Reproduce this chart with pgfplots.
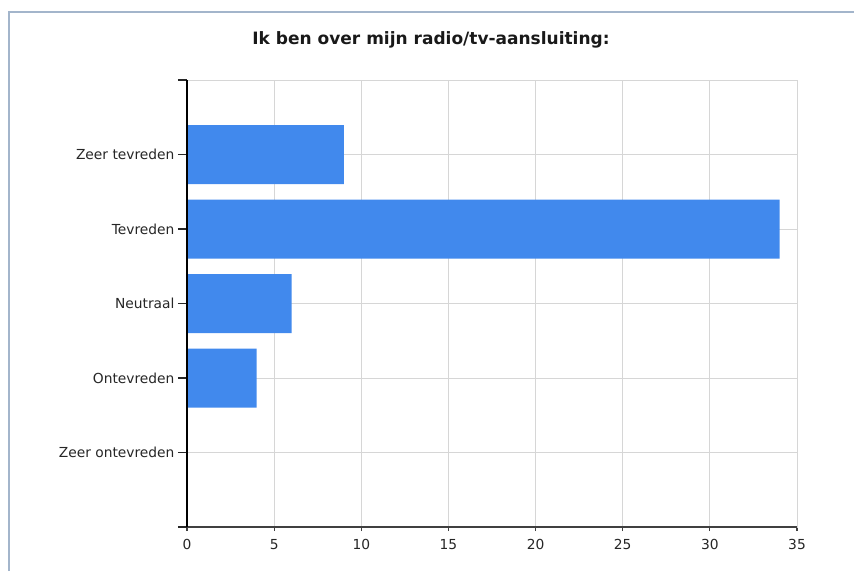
\documentclass[border=0pt]{standalone}
\usepackage{pgfplots}
\pgfplotsset{compat=1.18}
\usepackage{fontspec}
\setmainfont{DejaVu Sans}
\definecolor{barblue}{HTML}{4189ED}
\definecolor{gridgray}{HTML}{D6D6D6}
\definecolor{framec}{HTML}{A3B5CB}
\definecolor{axisx}{HTML}{404040}
\begin{document}
\begin{tikzpicture}[x=1pt,y=1pt]
\path[use as bounding box] (0,0) rectangle (854,571);
\draw[framec, line width=2pt] (9,0) -- (9,559) -- (854,559);
\node[font=\fontsize{17}{20}\selectfont\bfseries, text=black!90] at (431,531) {Ik ben over mijn radio/tv-aansluiting:};
\begin{axis}[
  at={(187pt,44pt)}, anchor=south west,
  scale only axis, width=610pt, height=447pt,
  xmin=0, xmax=35, ymin=0, ymax=6,
  xbar, bar width=59pt,
  clip=false,
  xtick={0,5,...,35}, minor xtick={0,5,...,35},
  major x tick style={draw=none},
  minor x tick style={axisx, line width=1.2pt},
  minor tick length=4pt,
  ytick={0,...,6},
  yticklabels={,Zeer ontevreden,Ontevreden,Neutraal,Tevreden,Zeer tevreden,},
  major y tick style={black!85, line width=1.2pt},
  major tick length=9pt, tick align=outside,
  xtick pos=bottom, ytick pos=left,
  xmajorgrids, ymajorgrids,
  grid style={gridgray, line width=1pt},
  axis line style={gridgray, line width=1pt},
  /pgf/number format/assume math mode=true,
  ticklabel style={font=\fontsize{13.8}{16}\selectfont, text=black!85},
]
\addplot[fill=barblue, draw=none] coordinates {(0,1) (4,2) (6,3) (34,4) (9,5)};
\draw[axisx, line width=1.5pt] (axis cs:0,0) -- (axis cs:35,0);
\draw[black, line width=1.5pt] (axis cs:0,0) -- (axis cs:0,6);
\end{axis}
\end{tikzpicture}
\end{document}
